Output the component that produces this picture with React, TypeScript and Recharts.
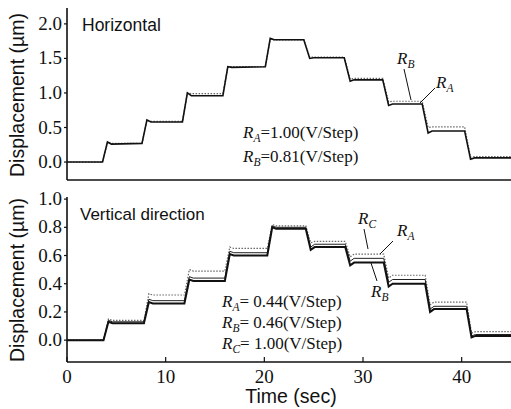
import { Line, LineChart, XAxis, YAxis } from "recharts";

// step-response traces, time in sec, displacement in µm
const timeTop = [
  0, 3.6, 4.1, 4.5, 7.6, 8.1, 8.5, 11.7, 12.2, 12.6, 15.8, 16.3, 16.7, 20.1, 20.6, 21.0,
  24.0, 24.6, 25.0, 28.1, 28.7, 29.1, 32.0, 32.6, 33.0, 36.0, 36.6, 37.0, 40.3, 40.9, 41.3, 45,
];
const horizA = [
  0, 0, 0.29, 0.26, 0.27, 0.61, 0.58, 0.58, 1.0, 0.96, 0.96, 1.38, 1.37, 1.38, 1.79, 1.77,
  1.77, 1.5, 1.51, 1.51, 1.17, 1.19, 1.19, 0.82, 0.84, 0.84, 0.42, 0.45, 0.45, 0.04, 0.06, 0.06,
];
const horizB = [
  0, 0, 0.28, 0.27, 0.27, 0.6, 0.59, 0.59, 1.0, 0.99, 0.99, 1.38, 1.38, 1.38, 1.78, 1.77,
  1.77, 1.52, 1.52, 1.52, 1.2, 1.21, 1.21, 0.87, 0.88, 0.88, 0.5, 0.51, 0.51, 0.07, 0.08, 0.08,
];

const timeBottom = [
  0, 3.7, 4.2, 4.6, 7.8, 8.3, 8.7, 11.9, 12.4, 12.8, 16.0, 16.5, 16.9, 20.3, 20.8, 21.2,
  24.2, 24.7, 25.1, 28.2, 28.7, 29.1, 32.1, 32.6, 33.0, 36.3, 36.8, 37.2, 40.5, 41.0, 41.4, 45,
];
const vertA = [
  0, 0, 0.14, 0.13, 0.13, 0.29, 0.28, 0.28, 0.45, 0.44, 0.44, 0.63, 0.62, 0.62, 0.81, 0.8,
  0.8, 0.66, 0.68, 0.68, 0.56, 0.58, 0.58, 0.41, 0.43, 0.43, 0.22, 0.24, 0.24, 0.03, 0.04, 0.04,
];
const vertB = [
  0, 0, 0.13, 0.12, 0.12, 0.27, 0.26, 0.26, 0.43, 0.42, 0.42, 0.61, 0.6, 0.6, 0.8, 0.79,
  0.79, 0.64, 0.66, 0.66, 0.53, 0.55, 0.55, 0.38, 0.4, 0.4, 0.2, 0.22, 0.22, 0.02, 0.03, 0.03,
];
const vertC = [
  0, 0, 0.15, 0.14, 0.14, 0.33, 0.32, 0.32, 0.5, 0.49, 0.49, 0.66, 0.65, 0.65, 0.82, 0.81,
  0.81, 0.69, 0.7, 0.7, 0.59, 0.61, 0.61, 0.44, 0.46, 0.46, 0.25, 0.27, 0.27, 0.05, 0.06, 0.06,
];

const timeTicks = [0, 10, 20, 30, 40];
const topTicks = [0, 0.5, 1.0, 1.5, 2.0];
const bottomTicks = [0, 0.2, 0.4, 0.6, 0.8, 1.0];

const topData = timeTop.map((t, i) => ({ t, a: horizA[i], b: horizB[i] }));
const bottomData = timeBottom.map((t, i) => ({ t, a: vertA[i], b: vertB[i], c: vertC[i] }));

const serif = "Liberation Serif";
const sans = "Liberation Sans";

const axisLine = { stroke: "#111", strokeWidth: 1.6 };
const tickLine = { stroke: "#111", strokeWidth: 1.2 };

const yTick = (p: any) => (
  <text x={p.x} y={p.y} dy={6} textAnchor="end" fontSize={19} fill="#111" fontFamily={serif}>
    {Number(p.payload.value).toFixed(1)}
  </text>
);

const xTick = (p: any) => (
  <text x={p.x} y={p.y} dy={15} textAnchor="middle" fontSize={19} fill="#111" fontFamily={serif}>
    {p.payload.value}
  </text>
);

function R({ sub }: { sub: string }) {
  return (
    <>
      <tspan fontStyle="italic">R</tspan>
      <tspan fontStyle="italic" fontSize={11.5} dy={4}>
        {sub}
      </tspan>
    </>
  );
}

export default function App() {
  return (
    <div style={{ position: "absolute", left: 0, top: 0, width: 511, height: 409, background: "#fff" }}>
      <div style={{ position: "absolute", left: 0, top: 0 }}>
        <LineChart width={511} height={190} data={topData} margin={{ top: 8, right: 0, bottom: 0, left: 0 }}>
          <XAxis
            dataKey="t"
            type="number"
            domain={[0, 45]}
            ticks={timeTicks}
            tick={false}
            height={10}
            axisLine={axisLine}
            tickLine={tickLine}
            tickSize={-5}
          />
          <XAxis
            xAxisId="top"
            orientation="top"
            dataKey="t"
            type="number"
            domain={[0, 45]}
            tick={false}
            tickLine={false}
            height={0}
            axisLine={axisLine}
          />
          <YAxis
            type="number"
            domain={[-0.26, 2.23]}
            ticks={topTicks}
            width={67}
            axisLine={axisLine}
            tickLine={tickLine}
            tickSize={3}
            tickMargin={2}
            tick={yTick}
            allowDataOverflow
          />
          <Line
            dataKey="b"
            type="linear"
            stroke="#666"
            strokeWidth={1.2}
            strokeDasharray="1.5 1.5"
            dot={false}
            isAnimationActive={false}
          />
          <Line dataKey="a" type="linear" stroke="#111" strokeWidth={1.6} dot={false} isAnimationActive={false} />
        </LineChart>
      </div>

      <div style={{ position: "absolute", left: 0, top: 185 }}>
        <LineChart width={511} height={224} data={bottomData} margin={{ top: 12, right: 0, bottom: 0, left: 0 }}>
          <XAxis
            dataKey="t"
            type="number"
            domain={[0, 45]}
            ticks={timeTicks}
            height={47}
            axisLine={axisLine}
            tickLine={tickLine}
            tickSize={-5}
            tickMargin={11}
            tick={xTick}
          />
          <XAxis
            xAxisId="top"
            orientation="top"
            dataKey="t"
            type="number"
            domain={[0, 45]}
            tick={false}
            tickLine={false}
            height={0}
            axisLine={axisLine}
          />
          <YAxis
            type="number"
            domain={[-0.155, 1.015]}
            ticks={bottomTicks}
            width={67}
            axisLine={axisLine}
            tickLine={tickLine}
            tickSize={3}
            tickMargin={2}
            tick={yTick}
            allowDataOverflow
          />
          <Line
            dataKey="c"
            type="linear"
            stroke="#666"
            strokeWidth={1.2}
            strokeDasharray="1.5 1.5"
            dot={false}
            isAnimationActive={false}
          />
          <Line dataKey="a" type="linear" stroke="#222" strokeWidth={1} dot={false} isAnimationActive={false} />
          <Line dataKey="b" type="linear" stroke="#111" strokeWidth={2} dot={false} isAnimationActive={false} />
        </LineChart>
      </div>

      <svg
        width={511}
        height={409}
        style={{ position: "absolute", left: 0, top: 0, pointerEvents: "none" }}
      >
        <g fontFamily={sans} fontSize={19.5} fill="#111" textAnchor="middle">
          <text transform="translate(24,95) rotate(-90)">Displacement (µm)</text>
          <text transform="translate(24,280) rotate(-90)">Displacement (µm)</text>
          <text x={291} y={403}>Time (sec)</text>
        </g>
        <g fontFamily={sans} fill="#111">
          <text x={82} y={31} fontSize={17.5}>Horizontal</text>
          <text x={80} y={220} fontSize={17}>Vertical direction</text>
        </g>
        <g fontFamily={serif} fontSize={17} fill="#111">
          <text x={243} y={138}>
            <R sub="A" />
            <tspan dy={-4}>=1.00(V/Step)</tspan>
          </text>
          <text x={243} y={162}>
            <R sub="B" />
            <tspan dy={-4}>=0.81(V/Step)</tspan>
          </text>
          <text x={222} y={307}>
            <R sub="A" />
            <tspan dy={-4}>= 0.44(V/Step)</tspan>
          </text>
          <text x={222} y={328}>
            <R sub="B" />
            <tspan dy={-4}>= 0.46(V/Step)</tspan>
          </text>
          <text x={222} y={349}>
            <R sub="C" />
            <tspan dy={-4}>= 1.00(V/Step)</tspan>
          </text>
          <text x={397} y={64}>
            <R sub="B" />
          </text>
          <text x={436} y={88}>
            <R sub="A" />
          </text>
          <text x={358} y={224}>
            <R sub="C" />
          </text>
          <text x={397} y={236}>
            <R sub="A" />
          </text>
          <text x={371} y={297}>
            <R sub="B" />
          </text>
        </g>
        <g stroke="#111" strokeWidth={1} fill="none">
          <line x1={404} y1={69} x2={411} y2={100} />
          <line x1={435} y1={88} x2={420} y2={103} />
          <line x1={364} y1={229} x2={368} y2={249} />
          <line x1={393} y1={241} x2={380} y2={254} />
          <line x1={377} y1={281} x2={371} y2={263} />
        </g>
      </svg>
    </div>
  );
}
